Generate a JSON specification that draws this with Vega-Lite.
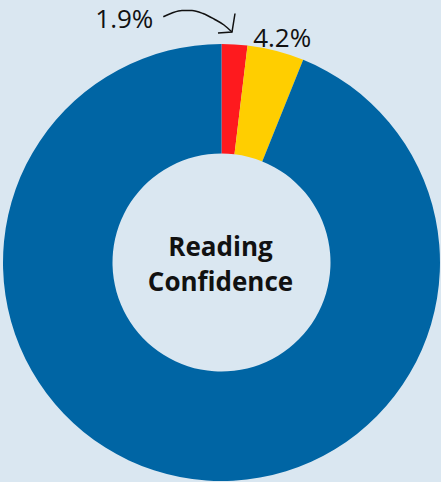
{
  "$schema": "https://vega.github.io/schema/vega-lite/v6.json",
  "width": 437,
  "height": 439,
  "autosize": {"type": "none"},
  "padding": {"left": 3, "top": 43, "right": 1, "bottom": 0},
  "background": "#dae7f1",
  "config": {"view": {"stroke": null}, "font": "Open Sans"},
  "layer": [
    {
      "data": {
        "values": [
          {"category": "Not confident", "value": 0.019},
          {"category": "Somewhat confident", "value": 0.042},
          {"category": "Confident", "value": 0.939}
        ]
      },
      "encoding": {
        "theta": {"field": "value", "type": "quantitative", "stack": true},
        "order": {"field": "value", "type": "quantitative"},
        "color": {
          "field": "category",
          "type": "nominal",
          "scale": {
            "domain": ["Not confident", "Somewhat confident", "Confident"],
            "range": ["#fe1a1e", "#ffce00", "#0065a4"]
          },
          "legend": null
        }
      },
      "layer": [
        {"mark": {"type": "arc", "outerRadius": 218.5, "innerRadius": 109}},
        {
          "mark": {"type": "text", "radius": 232, "dx": 3, "dy": 1, "fontSize": 26, "font": "Open Sans", "fill": "#111111"},
          "encoding": {
            "text": {"field": "value", "type": "quantitative", "format": ".1%"},
            "opacity": {"condition": {"test": "datum.category === 'Somewhat confident'", "value": 1}, "value": 0}
          }
        },
        {
          "mark": {"type": "text", "radius": 232, "dx": -111, "dy": -11, "fontSize": 26, "font": "Open Sans", "fill": "#111111"},
          "encoding": {
            "text": {"field": "value", "type": "quantitative", "format": ".1%"},
            "opacity": {"condition": {"test": "datum.category === 'Not confident'", "value": 1}, "value": 0}
          }
        }
      ]
    },
    {
      "encoding": {
        "x": {"type": "quantitative", "scale": {"domain": [-218.5, 218.5], "nice": false, "zero": false}, "axis": null},
        "y": {"type": "quantitative", "scale": {"domain": [-219.5, 219.5], "nice": false, "zero": false}, "axis": null}
      },
      "layer": [
        {
          "data": {
            "values": [
              {"x": -58.2, "y": 245.8},
              {"x": -49.5, "y": 249.5},
              {"x": -39.5, "y": 252},
              {"x": -29.5, "y": 252},
              {"x": -18.5, "y": 249},
              {"x": -7.5, "y": 243.5},
              {"x": 2.5, "y": 237.5},
              {"x": 10.5, "y": 230.5}
            ]
          },
          "mark": {"type": "line", "interpolate": "monotone", "color": "#111111", "strokeWidth": 1.5},
          "encoding": {"x": {"field": "x", "type": "quantitative"}, "y": {"field": "y", "type": "quantitative"}}
        },
        {
          "data": {
            "values": [
              {"x": -3.5, "y": 229.5},
              {"x": 10.5, "y": 230.5},
              {"x": 13.5, "y": 249}
            ]
          },
          "mark": {"type": "line", "color": "#111111", "strokeWidth": 1.5, "strokeJoin": "miter"},
          "encoding": {"x": {"field": "x", "type": "quantitative"}, "y": {"field": "y", "type": "quantitative"}}
        },
        {
          "data": {"values": [{"title": "Reading\nConfidence"}]},
          "mark": {"type": "text", "fontSize": 26, "fontWeight": "bold", "font": "Open Sans", "lineBreak": "\n", "lineHeight": 35, "align": "center", "baseline": "middle", "fill": "#111111"},
          "encoding": {
            "x": {"datum": -1},
            "y": {"datum": 15},
            "text": {"field": "title", "type": "nominal"}
          }
        }
      ]
    }
  ]
}
